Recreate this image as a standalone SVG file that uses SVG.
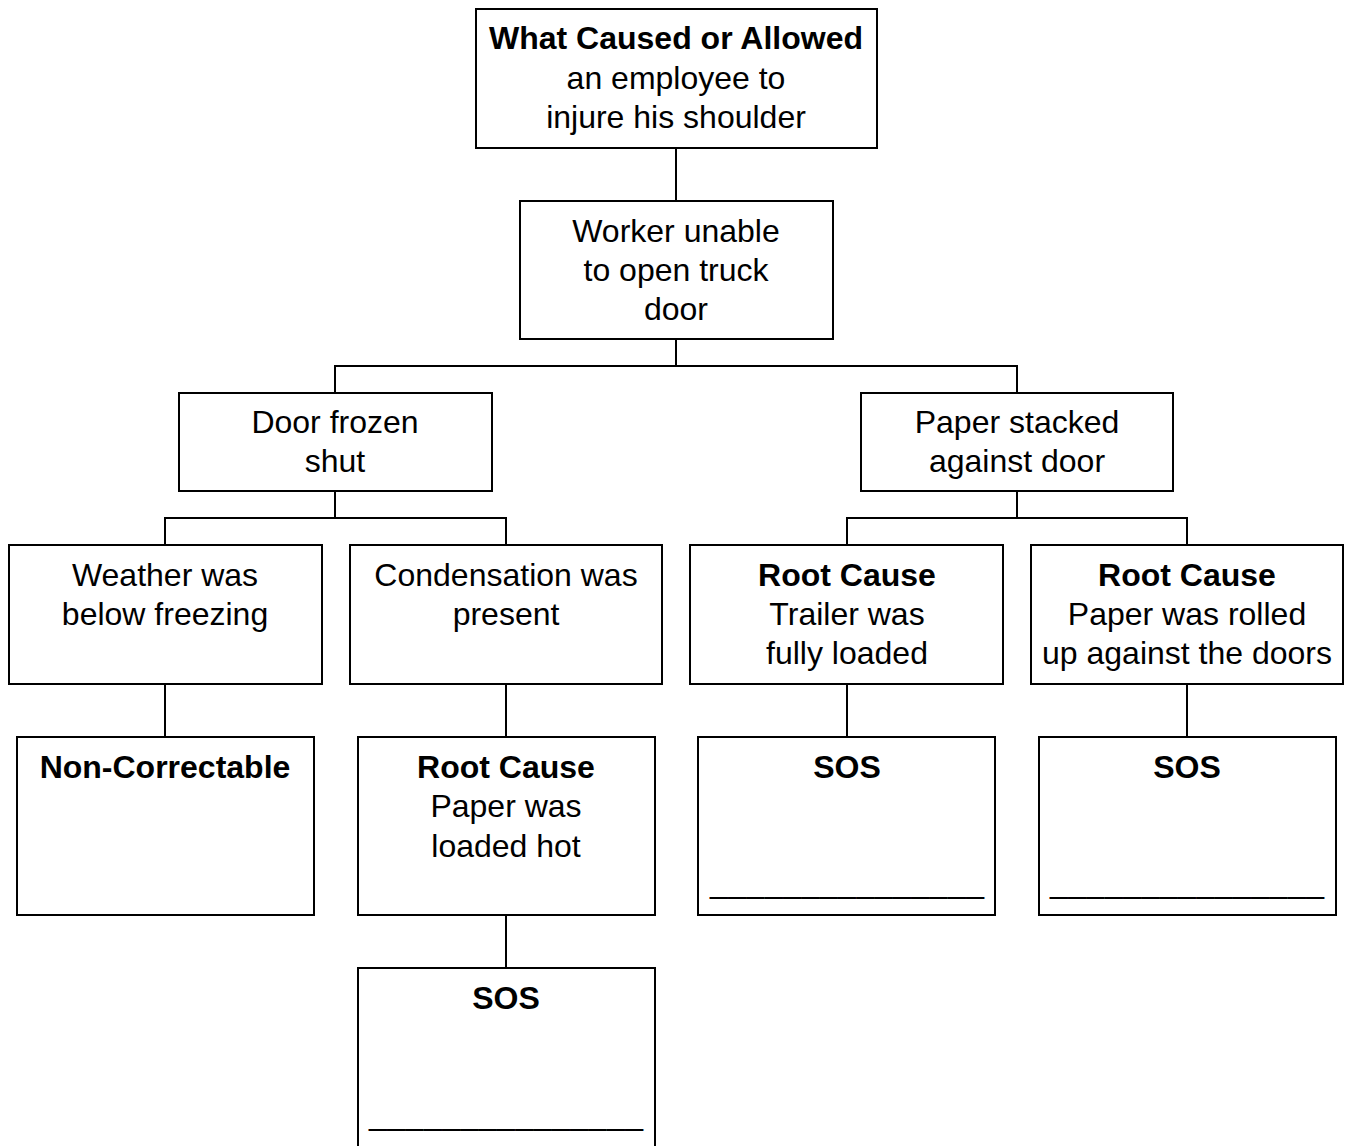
<svg xmlns="http://www.w3.org/2000/svg" width="1348" height="1146" viewBox="0 0 1348 1146">
<style>
.box{fill:#fff;stroke:#000;stroke-width:2}
.con{fill:none;stroke:#000;stroke-width:2}
text{font-family:"Liberation Sans",Arial,sans-serif;font-size:32px;fill:#000;text-anchor:middle}
.b{font-weight:bold}
</style>
<rect width="1348" height="1146" fill="#fff"/>
<g id="connectors">
<path class="con" d="M676 148V201"/>
<path class="con" d="M676 339V366M335 393V366H1017V393"/>
<path class="con" d="M335 491V518M165 545V518H506V545"/>
<path class="con" d="M1017 491V518M847 545V518H1187V545"/>
<path class="con" d="M165 684V737M506 684V737M847 684V737M1187 684V737"/>
<path class="con" d="M506 915V968"/>
</g>
<g id="n-top"><rect class="box" x="476" y="9" width="401" height="139"/>
<text x="676" y="49" class="b">What Caused or Allowed</text><text x="676" y="89">an employee to</text><text x="676" y="128">injure his shoulder</text></g>
<g id="n-worker"><rect class="box" x="520" y="201" width="313" height="138"/>
<text x="676" y="242">Worker unable</text><text x="676" y="281">to open truck</text><text x="676" y="320">door</text></g>
<g id="n-door"><rect class="box" x="179" y="393" width="313" height="98"/>
<text x="335" y="433">Door frozen</text><text x="335" y="472">shut</text></g>
<g id="n-paper"><rect class="box" x="861" y="393" width="312" height="98"/>
<text x="1017" y="433">Paper stacked</text><text x="1017" y="472">against door</text></g>
<g id="n-weather"><rect class="box" x="9" y="545" width="313" height="139"/>
<text x="165" y="586">Weather was</text><text x="165" y="625">below freezing</text></g>
<g id="n-cond"><rect class="box" x="350" y="545" width="312" height="139"/>
<text x="506" y="586">Condensation was</text><text x="506" y="625">present</text></g>
<g id="n-trailer"><rect class="box" x="690" y="545" width="313" height="139"/>
<text x="847" y="586" class="b">Root Cause</text><text x="847" y="625">Trailer was</text><text x="847" y="664">fully loaded</text></g>
<g id="n-rolled"><rect class="box" x="1031" y="545" width="312" height="139"/>
<text x="1187" y="586" class="b">Root Cause</text><text x="1187" y="625">Paper was rolled</text><text x="1187" y="664">up against the doors</text></g>
<g id="n-noncorr"><rect class="box" x="17" y="737" width="297" height="178"/>
<text x="165" y="778" class="b">Non-Correctable</text></g>
<g id="n-hot"><rect class="box" x="358" y="737" width="297" height="178"/>
<text x="506" y="778" class="b">Root Cause</text><text x="506" y="817">Paper was</text><text x="506" y="857">loaded hot</text></g>
<g id="n-sos1"><rect class="box" x="698" y="737" width="297" height="178"/>
<text x="847" y="778" class="b">SOS</text><text x="847" y="893" textLength="274" lengthAdjust="spacing">_______________</text></g>
<g id="n-sos2"><rect class="box" x="1039" y="737" width="297" height="178"/>
<text x="1187" y="778" class="b">SOS</text><text x="1187" y="893" textLength="274" lengthAdjust="spacing">_______________</text></g>
<g id="n-sos3"><rect class="box" x="358" y="968" width="297" height="190"/>
<text x="506" y="1009" class="b">SOS</text><text x="506" y="1125" textLength="274" lengthAdjust="spacing">_______________</text></g>
</svg>
